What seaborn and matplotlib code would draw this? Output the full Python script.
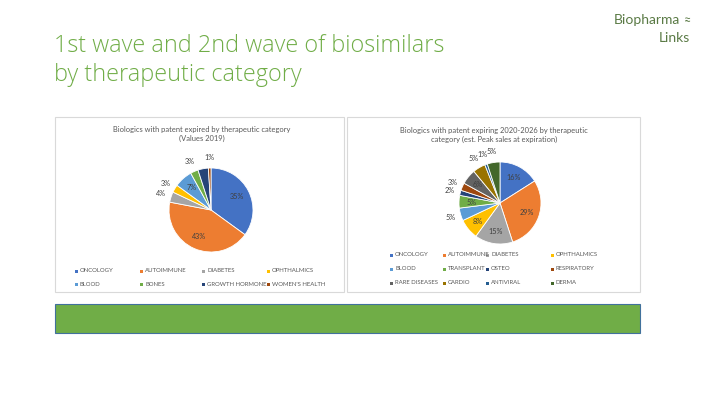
import numpy as np
import matplotlib
matplotlib.use("Agg")
import matplotlib.pyplot as plt
import seaborn as sns
from matplotlib.patches import Rectangle

W, H = 709, 399

slide_title = ["1st wave and 2nd wave of biosimilars", "by therapeutic category"]

left_title = "Biologics with patent expired by therapeutic category\n(Values 2019)"
left_cats = ["ONCOLOGY", "AUTOIMMUNE", "DIABETES", "OPHTHALMICS",
             "BLOOD", "BONES", "GROWTH HORMONE", "WOMEN'S HEALTH"]
left_vals = [35, 43, 4, 3, 7, 3, 4, 1]
left_labels = ["35%", "43%", "4%", "3%", "7%", "3%", "", "1%"]
left_inside = [True, True, False, False, True, False, True, False]

right_title = "Biologics with patent expiring 2020-2026 by therapeutic\ncategory (est. Peak sales at expiration)"
right_cats = ["ONCOLOGY", "AUTOIMMUNE", "DIABETES", "OPHTHALMICS",
              "BLOOD", "TRANSPLANT", "OSTEO", "RESPIRATORY",
              "RARE DISEASES", "CARDIO", "ANTIVIRAL", "DERMA"]
right_vals = [16, 29, 15, 8, 5, 5, 2, 3, 6, 5, 1, 5]
right_labels = [f"{v}%" for v in right_vals]
right_inside = [True, True, True, True, False, True, False, False, True, False, False, False]

office = sns.color_palette(["#4472C4", "#ED7D31", "#A5A5A5", "#FFC000",
                            "#5B9BD5", "#70AD47", "#264478", "#9E480E",
                            "#636363", "#997300", "#255E91", "#43682B"])

sns.set_theme(style="white")
plt.rcParams["font.family"] = ["Lato", "DejaVu Sans"]

fig = plt.figure(figsize=(W / 100, H / 100), dpi=100)
fig.patch.set_facecolor("white")


def fx(x):
    return x / W


def fy(y):
    return 1 - y / H


def panel(x0, y0, x1, y1, face="white", edge="#D9D9D9", lw=0.8):
    fig.patches.append(Rectangle((fx(x0), fy(y1)), fx(x1) - fx(x0), fy(y0) - fy(y1),
                                 transform=fig.transFigure, facecolor=face,
                                 edgecolor=edge, linewidth=lw, zorder=-5))


def draw_pie(cx, cy, r, vals, labels, inside):
    ax = fig.add_axes([fx(cx - r), fy(cy + r), 2 * r / W, 2 * r / H])
    ax.set_zorder(5)
    ax.patch.set_alpha(0)
    wedges, _ = ax.pie(vals, colors=office[:len(vals)], startangle=90, counterclock=False,
                       radius=1, wedgeprops=dict(edgecolor="white", linewidth=0.6))
    ax.set_xlim(-1, 1)
    ax.set_ylim(-1, 1)
    ax.axis("off")
    for w, lab, ins in zip(wedges, labels, inside):
        ang = np.deg2rad((w.theta1 + w.theta2) / 2)
        rr = 0.7 if ins else 1.26
        ax.text(rr * np.cos(ang), rr * np.sin(ang), lab, ha="center", va="center",
                fontsize=5.2, color="#404040", clip_on=False)


def draw_legend(cats, xs, ys):
    for i, c in enumerate(cats):
        x = xs[i % len(xs)]
        y = ys[i // len(xs)]
        fig.patches.append(Rectangle((fx(x - 1.5), fy(y + 1.5)), 3 / W, 3 / H,
                                     transform=fig.transFigure, facecolor=office[i],
                                     edgecolor="none"))
        fig.text(fx(x + 4), fy(y), c, fontsize=4.3, color="#595959", va="center", ha="left")


# slide title and logo
title_font = dict(family=["Open Sans", "Lato"], weight="light")
fig.text(fx(54), fy(46), slide_title[0], fontsize=16.8, color="#70AD47",
         va="center", ha="left", **title_font)
fig.text(fx(54), fy(75), slide_title[1], fontsize=16.8, color="#70AD47",
         va="center", ha="left", **title_font)
fig.text(fx(680), fy(20), "Biopharma", fontsize=10, color="#5A7A45", va="center", ha="right")
fig.text(fx(690), fy(38), "Links", fontsize=10, color="#5A7A45", va="center", ha="right")
fig.text(fx(684), fy(20), "\u2248", fontsize=9, color="#5A7A45", va="center", ha="left")

# chart panels
panel(55, 117, 344, 292)
panel(347, 117, 640, 292)
panel(55, 304, 640, 333, face="#70AD47", edge="#41719C", lw=0.8)

fig.text(fx(202), fy(134), left_title, fontsize=5.4, color="#595959",
         ha="center", va="center", linespacing=1.4)
fig.text(fx(494), fy(135), right_title, fontsize=5.4, color="#595959",
         ha="center", va="center", linespacing=1.4)

draw_pie(211, 210, 42, left_vals, left_labels, left_inside)
draw_pie(500, 203, 41, right_vals, right_labels, right_inside)

draw_legend(left_cats, [76, 141, 203, 268], [271, 284])
draw_legend(right_cats, [391, 444, 487, 552], [255, 269, 283])

fig.savefig("out.png", dpi=100)
